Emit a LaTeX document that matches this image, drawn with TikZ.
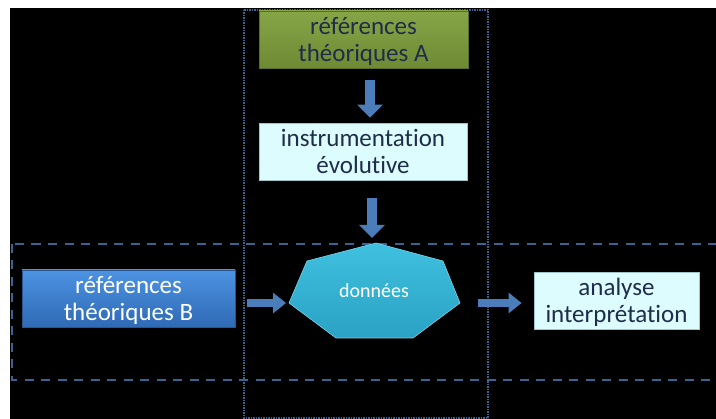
\documentclass[tikz,border=0pt]{standalone}
\usepackage{fontspec}
\setmainfont[Ligatures=NoCommon]{Carlito}
\usetikzlibrary{arrows.meta}
\definecolor{navytext}{HTML}{1F2D4A}
\definecolor{frameblue}{HTML}{3A6391}
\definecolor{arrowblue}{HTML}{4A7DBA}
\definecolor{greentop}{HTML}{86A547}
\definecolor{greenbot}{HTML}{6E8A34}
\definecolor{bluetop}{HTML}{4C93E2}
\definecolor{bluebot}{HTML}{2F6AB5}
\definecolor{lightcyan}{HTML}{DDFCFE}
\definecolor{cyanedge}{HTML}{9FC3C8}
\definecolor{heptop}{HTML}{40C0DF}
\definecolor{heptbot}{HTML}{2AA2C4}
\tikzset{
  boxbase/.style={rectangle, inner sep=0pt, align=center, text depth=0pt, font=\fontsize{25}{26.5}\selectfont},
  greenbox/.style={boxbase, top color=greentop, bottom color=greenbot, draw=greenbot!80!black, line width=0.6pt, text=navytext},
  bluebox/.style={boxbase, top color=bluetop, bottom color=bluebot, draw=bluebot!80!black, line width=0.6pt, text=white},
  cyanbox/.style={boxbase, fill=lightcyan, draw=cyanedge, line width=0.8pt, text=navytext},
  downarrow/.style={draw=arrowblue, line width=10pt, -{Triangle[length=13pt,width=25pt]}},
  rightarrow/.style={draw=arrowblue, line width=8.5pt, -{Triangle[length=13pt,width=20pt]}},
  dashframe/.style={draw=frameblue, line width=2pt, dash pattern=on 9pt off 7.5pt},
  dotframe/.style={draw=frameblue, line width=1.6pt, dash pattern=on 1.2pt off 1.3pt},
}
\begin{document}
\begin{tikzpicture}[x=1pt,y=-1pt]
\useasboundingbox (0,0) rectangle (716,419);
\clip (0,0) rectangle (716,419);
\fill[white] (0,0) rectangle (716,419);
\fill[black] (10,8) rectangle (716,419);
% frames
\draw[dotframe] (244,10) rectangle (488,418);
\draw[dashframe] (12,244) rectangle (740,380);
% boxes
\node[greenbox, minimum width=209pt, minimum height=57pt] (A) at (363.5,39.5) {références\\théoriques A};
\node[cyanbox, minimum width=208pt, minimum height=57pt] (I) at (363,151.5) {instrumentation\\évolutive};
\node[bluebox, minimum width=213pt, minimum height=57pt] (B) at (128.5,298.5) {références\\théoriques B};
\node[cyanbox, minimum width=165pt, minimum height=57pt] (R) at (616.5,300.5) {analyse\\interprétation};
% heptagon
\coordinate (h1) at (376,243);
\coordinate (h2) at (443,261);
\coordinate (h3) at (460,303);
\coordinate (h4) at (413,338);
\coordinate (h5) at (336,338);
\coordinate (h6) at (289,303);
\coordinate (h7) at (307,261);
\shade[top color=heptop, bottom color=heptbot, draw=heptop!70!white, line width=0.6pt]
  (h1) -- (h2) -- (h3) -- (h4) -- (h5) -- (h6) -- (h7) -- cycle;
\node[text=white, font=\fontsize{20}{22}\selectfont] (D) at (374,291) {données};
% arrow guides
\coordinate (ax) at (370,0);
\coordinate (bx) at (372,0);
\coordinate (ay) at (0,303);
% arrows
\draw[downarrow, shorten <=12pt, shorten >=5pt] (A.south -| ax) -- (I.north -| ax);
\draw[downarrow, shorten <=18pt, shorten >=5pt] (I.south -| bx) -- (h1 -| bx);
\draw[rightarrow, shorten <=12pt, shorten >=3pt] (B.east |- ay) -- (h6 |- ay);
\draw[rightarrow, shorten <=18pt, shorten >=12pt] (h3 |- ay) -- (R.west |- ay);
\end{tikzpicture}
\end{document}
